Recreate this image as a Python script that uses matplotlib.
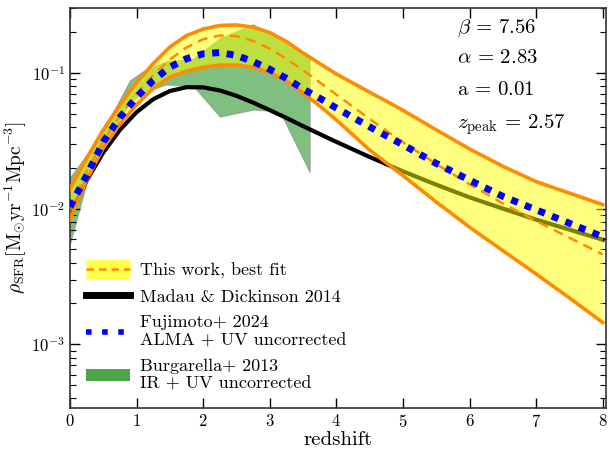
import matplotlib
matplotlib.use("Agg")
import matplotlib.pyplot as plt
from matplotlib.lines import Line2D
from matplotlib.patches import Patch

plt.rcParams['font.family'] = 'serif'
plt.rcParams['font.serif'] = ['cmr10', 'DejaVu Serif']
plt.rcParams['mathtext.fontset'] = 'cm'
plt.rcParams['axes.formatter.use_mathtext'] = True
plt.rcParams['axes.unicode_minus'] = False

# ---------------- data ----------------
z = [0.0, 0.25, 0.5, 0.75, 1.0, 1.25, 1.5, 1.75, 2.0, 2.25, 2.5, 2.75, 3.0,
     3.25, 3.5, 3.75, 4.0, 4.5, 5.0, 5.5, 6.0, 6.5, 7.0, 7.5, 8.0]

best_fit = [0.0100, 0.0188, 0.0315, 0.0485, 0.0702, 0.0963, 0.1253, 0.1537, 0.1766,
            0.1884, 0.1862, 0.1719, 0.1504, 0.1268, 0.1045, 0.0851, 0.0691, 0.0457,
            0.0308, 0.0213, 0.0151, 0.0109, 0.0081, 0.0061, 0.0046]
band_upper = [0.0140, 0.0235, 0.038, 0.058, 0.085, 0.117, 0.155, 0.188, 0.210,
              0.223, 0.225, 0.217, 0.198, 0.170, 0.140, 0.117, 0.098, 0.072,
              0.053, 0.038, 0.0275, 0.0205, 0.0158, 0.0130, 0.0107]
band_lower = [0.0083, 0.0162, 0.028, 0.042, 0.058, 0.077, 0.093, 0.103, 0.110,
              0.114, 0.114, 0.110, 0.101, 0.087, 0.071, 0.057, 0.045, 0.027,
              0.0175, 0.0112, 0.0073, 0.0049, 0.0033, 0.0022, 0.00145]
madau = [0.00886, 0.0161, 0.0259, 0.0380, 0.0513, 0.0639, 0.0734, 0.0783, 0.0781,
         0.0741, 0.0677, 0.0603, 0.0531, 0.0465, 0.0405, 0.0354, 0.0310, 0.0240,
         0.0188, 0.0150, 0.0121, 0.0100, 0.0083, 0.0070, 0.0059]
fujimoto = [0.0103, 0.0175, 0.031, 0.047, 0.066, 0.088, 0.110, 0.127, 0.138,
            0.141, 0.134, 0.121, 0.106, 0.091, 0.076, 0.065, 0.055, 0.040,
            0.0295, 0.0215, 0.0162, 0.0123, 0.0098, 0.0078, 0.0062]

burg_z = [0.0, 0.3, 0.45, 0.9, 1.1, 1.45, 1.85, 2.25, 2.75, 3.15, 3.6]
burg_hi = [0.017, 0.027, 0.034, 0.088, 0.103, 0.122, 0.127, 0.18, 0.228, 0.175, 0.13]
burg_lo = [0.0055, 0.019, 0.027, 0.06, 0.072, 0.082, 0.080, 0.0475, 0.0535, 0.052, 0.0185]

params_text = [r'$\beta\,=\,7.56$', r'$\alpha\,=\,2.83$', r'$\mathrm{a}\,=\,0.01$',
               r'$z_{\rm peak}\,=\,2.57$']

labels = ['This work, best fit', 'Madau & Dickinson 2014',
          'Fujimoto+ 2024\nALMA + UV uncorrected',
          'Burgarella+ 2013\nIR + UV uncorrected']

# ---------------- plot ----------------
fig = plt.figure(figsize=(6.09, 4.54), dpi=100)
ax = fig.add_axes([70/609, 46/454, 536/609, 400/454])

orange = '#FF8C00'
ax.fill_between(burg_z, burg_lo, burg_hi, color='green', alpha=0.5, lw=0.8,
                edgecolor='gray', zorder=1)
ax.plot(z, madau, color='black', lw=3, zorder=2)
ax.fill_between(z, band_lower, band_upper, color='yellow', alpha=0.5, lw=0, zorder=3)
ax.plot(z, band_upper, color=orange, lw=2.6, zorder=4)
ax.plot(z, band_lower, color=orange, lw=2.6, zorder=4)
ax.plot(z, best_fit, color=orange, lw=1.8, dashes=(4, 2.6), zorder=5)
ax.plot(z, fujimoto, color='blue', lw=5, dashes=(1, 1.1), zorder=6)

ax.set_yscale('log')
ax.set_xlim(0, 8.05)
ax.set_ylim(3.4e-4, 0.30)
ax.set_xticks([0, 1, 2, 3, 4, 5, 6, 7, 8])
ax.tick_params(which='both', direction='in', top=True, right=True, labelsize=12)
ax.tick_params(which='major', length=7, width=1)
ax.tick_params(which='minor', length=4, width=0.8)
for s in ax.spines.values():
    s.set_linewidth(1.2)
    s.set_color('0.2')

ax.set_xlabel('redshift', fontsize=15, labelpad=1)
ax.set_ylabel(r'$\rho_{\rm SFR}[\rm M_{\odot}yr^{-1}Mpc^{-3}]$', fontsize=14, labelpad=2)

ys = [0.9375, 0.8625, 0.7825, 0.70]
for t, yy in zip(params_text, ys):
    ax.text(0.722, yy, t, transform=ax.transAxes, fontsize=15, va='baseline', ha='left')

h1 = (Line2D([], [], color='yellow', alpha=0.7, lw=14, solid_capstyle='butt'),
      Line2D([], [], color=orange, lw=1.8, dashes=(3, 2)))
h2 = Line2D([], [], color='black', lw=5)
h3 = Line2D([], [], color='blue', lw=4, dashes=(1, 1.9))
h4 = Patch(facecolor='green', alpha=0.7, lw=0)
ax.legend([h1, h2, h3, h4], labels, loc='upper left', bbox_to_anchor=(0.0, 0.405),
          frameon=False, fontsize=13, handlelength=2.4, handletextpad=0.6,
          labelspacing=0.58)

fig.savefig('out.png', dpi=100)
